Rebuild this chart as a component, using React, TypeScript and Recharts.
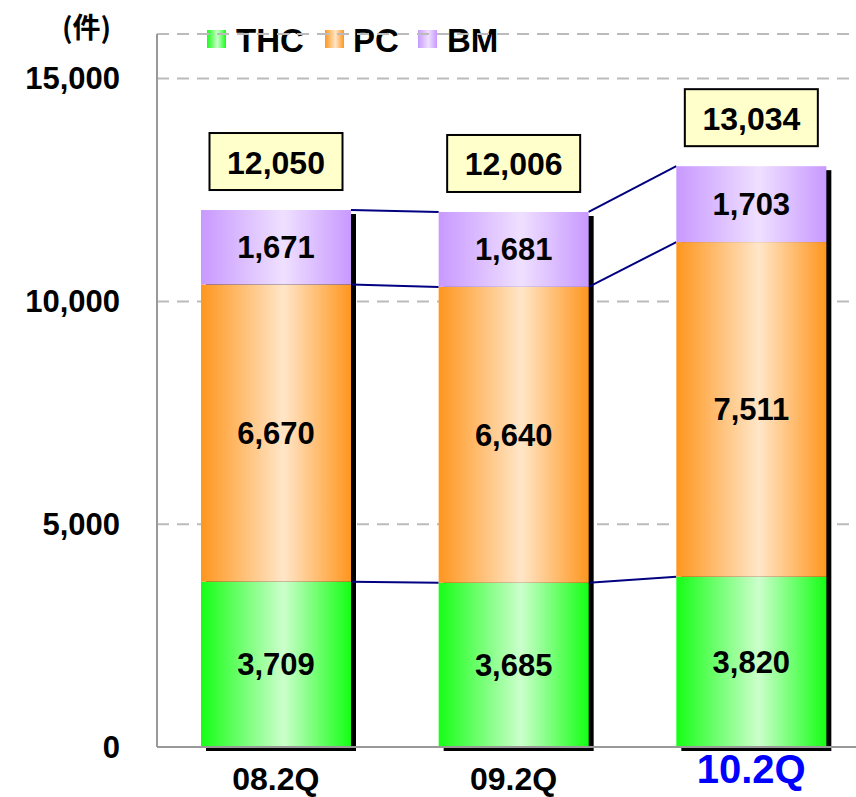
import React from 'react';
import {
  BarChart,
  Bar,
  XAxis,
  YAxis,
  CartesianGrid,
  LabelList
} from 'recharts';

const quarters = ['08.2Q', '09.2Q', '10.2Q'];
const thcValues = [3709, 3685, 3820];
const pcValues = [6670, 6640, 7511];
const bmValues = [1671, 1681, 1703];
const totalValues = [12050, 12006, 13034];
const yTicks = [0, 5000, 10000, 15000];

const seriesKeys = ['thc', 'pc', 'bm'];
const seriesNames = ['THC', 'PC', 'BM'];

const data = quarters.map((q, i) => ({
  quarter: q,
  thc: thcValues[i],
  pc: pcValues[i],
  bm: bmValues[i],
  total: totalValues[i]
}));

const FONT = '"Liberation Sans", Arial, sans-serif';
const CHART_W = 870;
const AXIS_W = 157;
const BAND = (CHART_W - AXIS_W) / quarters.length;

const gradStops: Record<string, [string, string, string]> = {
  thc: ['#16ff16', '#ccffcc', '#14ff14'],
  pc: ['#ff961e', '#ffe6c8', '#ff961e'],
  bm: ['#c899ff', '#efe0ff', '#c899ff']
};

// top of segment k (cumulative) for bar i
const cumTop = (i: number, k: number) =>
  seriesKeys.slice(0, k + 1).reduce((s, key) => s + (data[i] as any)[key], 0);

const makeShape = (k: number) => (props: any) => {
  const { x, y, width, height, index } = props;
  const key = seriesKeys[k];
  const value = (data[index] as any)[key];
  const ppu = height / value;
  const bottom = y + height;
  let shadow = null;
  if (k === 0) {
    const totalH = data[index].total * ppu;
    shadow = (
      <rect x={x + 5} y={bottom - totalH + 4} width={width} height={totalH} fill="#000" />
    );
  }
  let link = null;
  if (index < data.length - 1) {
    const y2 = y - (cumTop(index + 1, k) - cumTop(index, k)) * ppu;
    link = (
      <line x1={x + width} y1={y} x2={x + BAND} y2={y2} stroke="#000080" strokeWidth={2} />
    );
  }
  return (
    <g>
      {shadow}
      <rect x={x} y={y} width={width} height={height} fill={`url(#grad-${key})`} />
      {link}
    </g>
  );
};

const YTick = ({ y, payload }: any) => (
  <text x={120} y={y} textAnchor="end" dominantBaseline="central"
    fontSize={31} fontWeight="bold" fill="#000" style={{ fontFamily: FONT }}>
    {payload.value.toLocaleString('en-US')}
  </text>
);

const XTick = ({ x, y, payload }: any) => {
  const last = payload.value === quarters[quarters.length - 1];
  return (
    <text x={x} y={last ? y + 14 : y + 24} textAnchor="middle" dominantBaseline="central"
      fontSize={last ? 40 : 32} fontWeight="bold" fill={last ? '#0000ff' : '#000'}
      style={{ fontFamily: FONT }}>
      {payload.value}
    </text>
  );
};

const TotalBox = (props: any) => {
  const x = Number(props.x);
  const y = Number(props.y);
  const w = Number(props.width);
  const cx = x + w / 2;
  const bw = 133;
  const bh = 57;
  const top = y - 20 - bh;
  return (
    <g>
      <rect x={cx - bw / 2} y={top} width={bw} height={bh} fill="#ffffcc" stroke="#000" strokeWidth={2} />
      <text x={cx} y={top + bh / 2 + 1} textAnchor="middle" dominantBaseline="central"
        fontSize={32} fontWeight="bold" fill="#000" style={{ fontFamily: FONT }}>
        {Number(props.value).toLocaleString('en-US')}
      </text>
    </g>
  );
};

const legendPos = [
  { sq: 207, tx: 236 },
  { sq: 325, tx: 353 },
  { sq: 418, tx: 447 }
];

const App = () => {
  return (
    <div style={{ position: 'absolute', left: 0, top: 0, width: 856, height: 797, overflow: 'hidden', fontFamily: FONT }}>
      <div style={{ position: 'absolute', left: 62, top: 6, fontSize: 28, fontWeight: 'bold', fontFamily: '"Noto Sans CJK JP", sans-serif' }}>
        (件)
      </div>
      <svg style={{ position: 'absolute', left: 0, top: 0 }} width={856} height={70}>
        <defs>
          {seriesKeys.map((key) => (
            <linearGradient key={key} id={`lg-${key}`} x1="0" y1="0" x2="1" y2="0">
              <stop offset="0%" stopColor={gradStops[key][0]} />
              <stop offset="55%" stopColor={gradStops[key][1]} />
              <stop offset="100%" stopColor={gradStops[key][2]} />
            </linearGradient>
          ))}
        </defs>
        {seriesKeys.map((key, i) => (
          <g key={key}>
            <rect x={legendPos[i].sq} y={30} width={19} height={18} fill={`url(#lg-${key})`} />
            <text x={legendPos[i].tx} y={40} dominantBaseline="central" fontSize={33}
              fontWeight="bold" fill="#000" style={{ fontFamily: FONT }}>
              {seriesNames[i]}
            </text>
          </g>
        ))}
      </svg>
      <BarChart width={CHART_W} height={797} data={data}
        margin={{ top: 34, right: 0, left: 0, bottom: 0 }} barSize={150}>
        <defs>
          {seriesKeys.map((key) => (
            <linearGradient key={key} id={`grad-${key}`} x1="0" y1="0" x2="1" y2="0">
              <stop offset="0%" stopColor={gradStops[key][0]} />
              <stop offset="55%" stopColor={gradStops[key][1]} />
              <stop offset="100%" stopColor={gradStops[key][2]} />
            </linearGradient>
          ))}
        </defs>
        <CartesianGrid vertical={false} stroke="#bbbbbb" strokeWidth={2} strokeDasharray="12 8" />
        <XAxis dataKey="quarter" height={50} tickLine={false}
          axisLine={{ stroke: '#999999', strokeWidth: 2 }} tick={<XTick />} interval={0} />
        <YAxis width={AXIS_W} domain={[0, 16000]} ticks={yTicks} tickLine={false}
          axisLine={{ stroke: '#999999', strokeWidth: 2 }} tick={<YTick />} />
        {seriesKeys.map((key, k) => (
          <Bar key={key} dataKey={key} stackId="a" isAnimationActive={false} shape={makeShape(k)}>
            <LabelList dataKey={key} position="center" fill="#000" fontSize={31}
              fontWeight="bold" style={{ fontFamily: FONT }}
              formatter={(v: any) => Number(v).toLocaleString('en-US')} />
            {key === 'bm' ? <LabelList dataKey="total" content={<TotalBox />} /> : null}
          </Bar>
        ))}
      </BarChart>
    </div>
  );
};

export default App;
